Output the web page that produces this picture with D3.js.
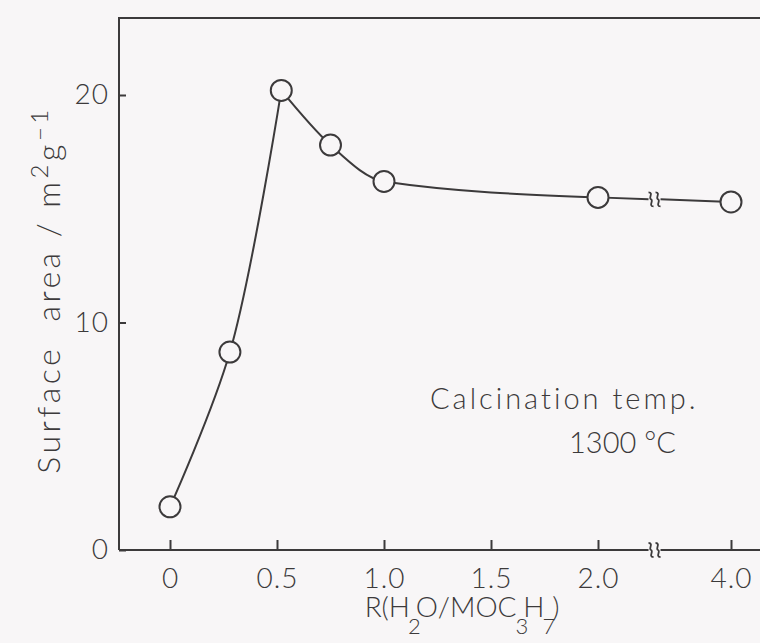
<!DOCTYPE html>
<html>
<head>
<meta charset="utf-8">
<script src="https://cdn.jsdelivr.net/npm/d3@7"></script>
<style>
  html, body { margin: 0; padding: 0; background: #f8f6f7; }
  svg { display: block; }
  text { font-family: Lato, "Open Sans", "DejaVu Sans", sans-serif; font-weight: 300; fill: #3c3a3b; white-space: pre; }
</style>
</head>
<body>
<svg id="chart" width="760" height="643"></svg>
<script>
// Water / alkoxide molar ratio R and BET surface area (m2/g), calcined at 1300 °C
const ratioR = [0, 0.28, 0.52, 0.75, 1.0, 2.0, 4.0];
const surfaceArea = [1.9, 8.7, 20.2, 17.8, 16.2, 15.5, 15.3];
const xTickValues = [0, 0.5, 1.0, 1.5, 2.0, 4.0];
const xTickLabels = ["0", "0.5", "1.0", "1.5", "2.0", "4.0"];
const yTickValues = [0, 10, 20];
const breakAt = 2.85;          // position of the axis break between 2.0 and 4.0

const W = 760, H = 643;
const frameLeft = 119, frameTop = 18, frameBottom = 550;
const ink = "#3c3a3b";

const svg = d3.select("#chart");

// broken x axis: 0..2 on a linear scale, then a compressed span up to 4.0
const x = d3.scaleLinear().domain([0, 2, 4]).range([170, 598, 731]);
const y = d3.scaleLinear().domain([0, 20]).range([frameBottom, 95]);

// frame: left and top edges
svg.append("path")
  .attr("d", `M${W + 5},${frameTop}H${frameLeft}V${frameBottom}`)
  .attr("fill", "none").attr("stroke", ink).attr("stroke-width", 2);

// bottom axis line with a gap for the break mark
const bx = x(breakAt);
svg.append("path")
  .attr("d", `M${frameLeft},${frameBottom}H${bx - 6}M${bx + 6},${frameBottom}H${W + 5}`)
  .attr("fill", "none").attr("stroke", ink).attr("stroke-width", 2);

// two small wavy strokes marking a scale break
function breakMark(cx, cy) {
  const g = svg.append("g").attr("fill", "none").attr("stroke", ink).attr("stroke-width", 1.8);
  [-3.5, 3.5].forEach(o => {
    const px = cx + o;
    g.append("path").attr("d",
      `M${px - 2.5},${cy - 7} C${px + 3},${cy - 7} ${px - 3},${cy - 1} ${px},${cy}` +
      ` C${px + 3},${cy + 1} ${px - 3},${cy + 7} ${px + 2.5},${cy + 7}`);
  });
}
breakMark(bx, frameBottom);

// x axis ticks and labels
const xAxis = d3.axisBottom(x)
  .tickValues(xTickValues)
  .tickFormat((d, i) => xTickLabels[i])
  .tickSize(-10)
  .tickPadding(18);
const gx = svg.append("g").attr("transform", `translate(0,${frameBottom})`).call(xAxis);
gx.select(".domain").remove();
gx.selectAll(".tick line").attr("stroke", ink).attr("stroke-width", 2);
gx.selectAll(".tick text").attr("font-size", 28).attr("fill", ink)
  .style("font-family", "Lato, 'Open Sans', sans-serif").style("letter-spacing", "1px");

// y axis ticks and labels
const yAxis = d3.axisLeft(y)
  .tickValues(yTickValues)
  .tickFormat(d3.format("d"))
  .tickSize(-7)
  .tickPadding(10);
const gy = svg.append("g").attr("transform", `translate(${frameLeft},0)`).call(yAxis);
gy.select(".domain").remove();
gy.selectAll(".tick line").attr("stroke", ink).attr("stroke-width", 2);
gy.selectAll(".tick text").attr("font-size", 28).attr("fill", ink)
  .style("font-family", "Lato, 'Open Sans', sans-serif").style("letter-spacing", "1px");

// data points as pairs
const pts = ratioR.map((r, i) => [r, surfaceArea[i]]);

// rising branch and decaying branch meet at the sharp maximum
const line = d3.line().x(d => x(d[0])).y(d => y(d[1]));
const rise = pts.slice(0, 3);
const fall = pts.slice(2, 6);
svg.append("path").datum(rise)
  .attr("d", line.curve(d3.curveCatmullRom.alpha(0.5)))
  .attr("fill", "none").attr("stroke", ink).attr("stroke-width", 2);
svg.append("path").datum(fall)
  .attr("d", line.curve(d3.curveMonotoneX))
  .attr("fill", "none").attr("stroke", ink).attr("stroke-width", 2);

// 2.0 -> 4.0 across the break
const p5 = pts[5], p6 = pts[6];
const yAt = t => y(p5[1] + (p6[1] - p5[1]) * t);
const tb = (bx - x(p5[0])) / (x(p6[0]) - x(p5[0]));
svg.append("path")
  .attr("d", `M${x(p5[0])},${y(p5[1])}L${bx - 6},${yAt(tb)}M${bx + 6},${yAt(tb)}L${x(p6[0])},${y(p6[1])}`)
  .attr("fill", "none").attr("stroke", ink).attr("stroke-width", 2);
breakMark(bx, yAt(tb));

// open circle markers
svg.append("g").selectAll("circle").data(pts).join("circle")
  .attr("cx", d => x(d[0])).attr("cy", d => y(d[1])).attr("r", 10.5)
  .attr("fill", "#f8f6f7").attr("stroke", ink).attr("stroke-width", 2);

// annotation
svg.append("text").attr("x", 430).attr("y", 409).attr("font-size", 29)
  .style("letter-spacing", "3px").text("Calcination temp.");
svg.append("text").attr("x", 569).attr("y", 453).attr("font-size", 29)
  .text("1300 °C");

// x axis title with subscripts
const xt = svg.append("text").attr("x", 462).attr("y", 617).attr("font-size", 28)
  .attr("text-anchor", "middle");
xt.append("tspan").text("R(H");
xt.append("tspan").attr("dy", 17).attr("dx", -2).attr("font-size", 22).text("2");
xt.append("tspan").attr("dy", -17).attr("dx", -5).text("O/MOC");
xt.append("tspan").attr("dy", 17).attr("dx", -1).attr("font-size", 22).text("3");
xt.append("tspan").attr("dy", -17).attr("dx", -5).text("H");
xt.append("tspan").attr("dy", 17).attr("dx", -2).attr("font-size", 22).text("7");
xt.append("tspan").attr("dy", -17).attr("dx", -3).text(")");

// y axis title, rotated
const yt = svg.append("text")
  .attr("transform", "translate(60,290) rotate(-90)")
  .attr("font-size", 32).attr("text-anchor", "middle").style("letter-spacing", "3.5px");
yt.append("tspan").text("Surface  area / m");
yt.append("tspan").attr("dy", -12).attr("font-size", 24).text("2");
yt.append("tspan").attr("dy", 12).text("g");
yt.append("tspan").attr("dy", -12).attr("font-size", 24).text("−1");
</script>
</body>
</html>
